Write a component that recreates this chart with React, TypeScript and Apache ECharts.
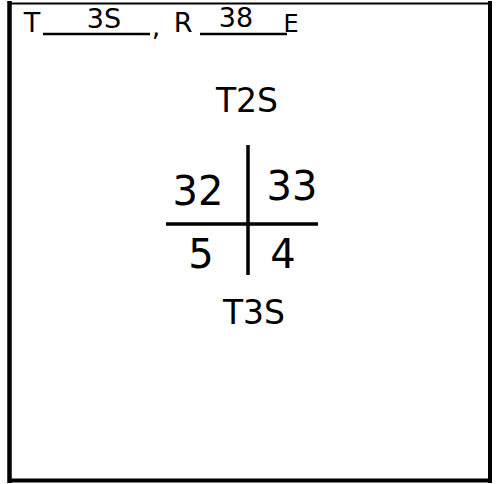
import React, { useEffect, useRef } from "react";
import * as echarts from "echarts";

const headerTownship = "3S";
const headerRange = "38E";
const northTownship = "T2S";
const southTownship = "T3S";
const sectionLabels = ["32", "33", "5", "4"];

const FONT = "DejaVu Sans";

export default function App() {
  const ref = useRef<HTMLDivElement>(null);
  useEffect(() => {
    if (!ref.current) return;
    const chart = echarts.init(ref.current, undefined, { renderer: "svg" });
    const txt = (text: string, x: number, y: number, size: number) => ({
      type: "text",
      x,
      y,
      style: {
        text,
        fontSize: size,
        fontFamily: FONT,
        fontWeight: 500,
        fill: "#000",
        align: "center",
        verticalAlign: "middle",
      },
    });
    const ln = (x1: number, y1: number, x2: number, y2: number, w: number) => ({
      type: "line",
      shape: { x1, y1, x2, y2 },
      style: { stroke: "#000", lineWidth: w },
    });
    const rangeNum = headerRange.slice(0, -1);
    const rangeDir = headerRange.slice(-1);
    chart.setOption({
      animation: false,
      backgroundColor: "#fff",
      graphic: [
        // border
        ln(9.5, 1, 9.5, 483, 4.5),
        ln(490, 1, 490, 483, 4),
        ln(8, 480.5, 492, 480.5, 4),
        ln(8, 3.5, 492, 3.5, 2),
        // header
        txt("T", 32, 22, 27),
        ln(43, 34, 150, 34, 2.5),
        txt(headerTownship, 104, 18, 27),
        txt(",", 156, 26, 27),
        txt("R", 183, 22, 27),
        ln(200, 34, 287, 34, 2.5),
        txt(rangeNum, 236, 17, 27),
        txt(rangeDir, 291, 24, 24),
        // township labels
        txt(northTownship, 247, 100, 33),
        txt(southTownship, 254, 312, 33),
        // section cross
        ln(248, 145, 248, 275, 3.5),
        ln(166, 224, 318, 224, 3.5),
        txt(sectionLabels[0], 198, 191, 40),
        txt(sectionLabels[1], 292, 186, 40),
        txt(sectionLabels[2], 201, 254, 40),
        txt(sectionLabels[3], 283, 254, 40),
      ],
    });
    return () => chart.dispose();
  }, []);
  return (
    <div
      ref={ref}
      style={{ position: "fixed", left: 0, top: 0, width: 499, height: 484, background: "#fff" }}
    />
  );
}
